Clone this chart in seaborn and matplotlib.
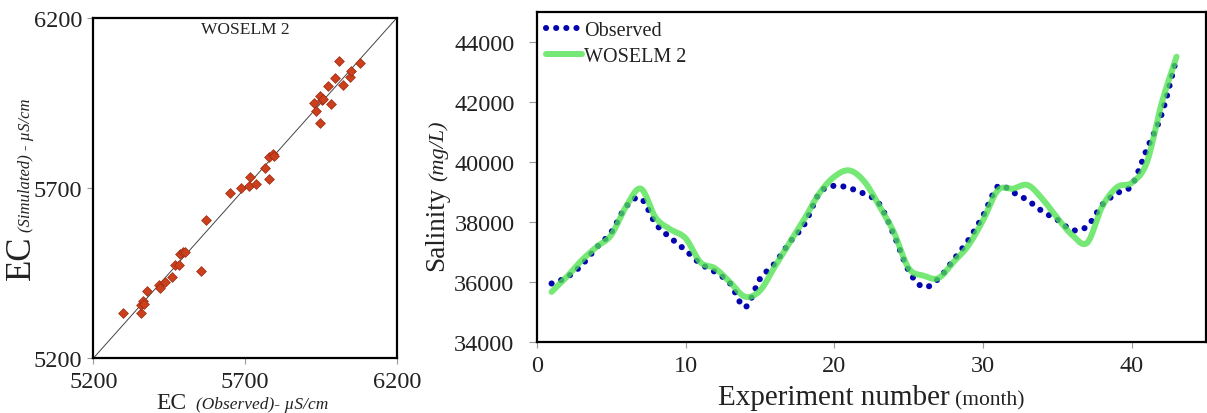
import numpy as np
import pandas as pd
import matplotlib
matplotlib.use("Agg")
import matplotlib.pyplot as plt
import seaborn as sns

# ---- scatter panel: EC observed vs simulated (uS/cm) ----
ec_observed = [5297, 5356, 5356, 5363, 5367, 5377, 5418, 5420, 5435, 5458,
               5468, 5484, 5487, 5495, 5502, 5556, 5571, 5651, 5687, 5714,
               5717, 5736, 5767, 5778, 5778, 5791, 5797, 5929, 5934, 5947,
               5947, 5953, 5956, 5975, 5982, 5997, 6009, 6024, 6046, 6051,
               6079]
ec_simulated = [5334, 5334, 5357, 5369, 5361, 5398, 5414, 5408, 5425, 5440,
                5475, 5475, 5507, 5513, 5513, 5456, 5606, 5687, 5699, 5707,
                5732, 5712, 5758, 5726, 5793, 5800, 5794, 5950, 5926, 5890,
                5970, 5960, 5962, 5999, 5948, 6023, 6073, 6004, 6026, 6045,
                6068]
ec_ticks = [5200, 5700, 6200]

# ---- time-series panel: salinity (mg/L) per month ----
month = list(range(1, 44))
observed = [35940, 36140, 36540, 37130, 37640, 38500, 38780, 37930, 37460, 37050,
            36600, 36320, 35940, 35150, 36090, 36610, 37310, 37920, 38950, 39200,
            39120, 38930, 38610, 37570, 36365, 35820, 36100, 36720, 37380, 38200,
            39180, 38980, 38710, 38340, 38060, 37720, 37850, 38560, 38950, 39220,
            40420, 41580, 43450]
woselm2 = [35660, 36150, 36700, 37150, 37550, 38500, 39100, 38130, 37740, 37450,
           36650, 36440, 35980, 35500, 35700, 36500, 37300, 38100, 38950, 39500,
           39710, 39350, 38550, 37650, 36450, 36200, 36120, 36650, 37200, 38050,
           39050, 39100, 39220, 38750, 38120, 37550, 37300, 38500, 39150, 39300,
           39970, 41950, 43500]
month_ticks = [0, 10, 20, 30, 40]
salinity_ticks = [34000, 36000, 38000, 40000, 42000, 44000]


def smooth_curve(x, y, n=24):
    """Catmull-Rom curve through every (x, y) point, like a spreadsheet's smoothed line."""
    x = np.asarray(x, float)
    y = np.asarray(y, float)
    pts = np.column_stack([x, y])
    pts = np.vstack([2 * pts[0] - pts[1], pts, 2 * pts[-1] - pts[-2]])
    p0, p1, p2, p3 = pts[:-3], pts[1:-2], pts[2:-1], pts[3:]
    t = np.linspace(0, 1, n, endpoint=False)[:, None, None]
    seg = 0.5 * (2 * p1 + (-p0 + p2) * t
                 + (2 * p0 - 5 * p1 + 4 * p2 - p3) * t ** 2
                 + (-p0 + 3 * p1 - 3 * p2 + p3) * t ** 3)
    seg = seg.transpose(1, 0, 2).reshape(-1, 2)
    seg = np.vstack([seg, pts[-2]])
    return seg[:, 0], seg[:, 1]


sns.set_theme(style="ticks")
plt.rcParams["font.family"] = ["Liberation Serif", "DejaVu Serif"]

W, H = 1207, 414
fig = plt.figure(figsize=(W / 100, H / 100), dpi=100)
fig.patch.set_facecolor("white")


def fx(px):
    return px / W


def fy(py):
    return 1 - py / H


ax1 = fig.add_axes([fx(93.3), fy(359.3), fx(396.7) - fx(93.3), fy(19) - fy(359.3)])
ax2 = fig.add_axes([fx(536.7), fy(342.7), fx(1206.3) - fx(536.7), fy(12.7) - fy(342.7)])

# ---------- left: scatter ----------
ax1.plot([ec_ticks[0], ec_ticks[-1]], [ec_ticks[0], ec_ticks[-1]],
         color="#444444", lw=0.7, zorder=1)
sns.scatterplot(x=ec_observed, y=ec_simulated, ax=ax1, marker="D", s=25,
                color="#cc3f1d", edgecolor="#9a2c12", linewidth=0.5, zorder=3)
ax1.set_xlim(ec_ticks[0], ec_ticks[-1])
ax1.set_ylim(ec_ticks[0], ec_ticks[-1])
ax1.set_xticks(ec_ticks)
ax1.set_yticks(ec_ticks)
ax1.set_xlabel("")
ax1.set_ylabel("")
ax1.tick_params(direction="out", length=4, width=0.8, color="#999999",
                labelsize=17.5, labelcolor="#222222")
ax1.tick_params(axis="x", pad=5)
ax1.tick_params(axis="y", pad=4)
ax1.text(0.5, 0.99, "WOSELM 2", transform=ax1.transAxes, ha="center", va="top",
         fontsize=12.5, color="#222222")

# ---------- right: salinity series ----------
ox, oy = smooth_curve(month, observed)
gx, gy = smooth_curve(month, woselm2)
obs_df = pd.DataFrame({"month": ox, "salinity": oy})
sim_df = pd.DataFrame({"month": gx, "salinity": gy})

sns.lineplot(data=obs_df, x="month", y="salinity", ax=ax2, estimator=None, sort=False,
             color="#0505b0", lw=4.4, linestyle=(0, (0.01, 1.65)),
             dash_capstyle="round", label="Observed", zorder=2)
sns.lineplot(data=sim_df, x="month", y="salinity", ax=ax2, estimator=None, sort=False,
             color="#4fe24f", lw=4.3, alpha=0.78, solid_capstyle="round",
             label="WOSELM 2", zorder=3)

ax2.set_xlim(0, 45)
ax2.set_ylim(34000, 45000)
ax2.set_xticks(month_ticks)
ax2.set_yticks(salinity_ticks)
ax2.set_xlabel("")
ax2.set_ylabel("")
ax2.tick_params(direction="out", width=0.8, color="#999999",
                labelsize=17.5, labelcolor="#222222")
ax2.tick_params(axis="x", length=4.5, pad=5)
ax2.tick_params(axis="y", length=6, pad=10)

leg = ax2.legend(loc="upper left", frameon=False, fontsize=14.5, handlelength=1.8,
                 handletextpad=0.1, borderaxespad=0.25, labelspacing=0.35,
                 borderpad=0.2)
for t in leg.get_texts():
    t.set_color("#222222")

for ax in (ax1, ax2):
    for sp in ax.spines.values():
        sp.set_visible(True)
        sp.set_color("black")
        sp.set_linewidth(1.6)

# ---------- axis titles built from mixed-size pieces ----------
txt = dict(color="#222222")
fig.text(fx(29.5), fy(258), "EC", rotation=90, rotation_mode="anchor",
         ha="center", va="baseline", fontsize=25, **txt)
fig.text(fx(29.5), fy(165), "(Simulated) - µS/cm", rotation=90, rotation_mode="anchor",
         ha="center", va="baseline", fontsize=12, style="italic", **txt)
fig.text(fx(171), fy(409), "EC", ha="center", va="baseline", fontsize=17, **txt)
fig.text(fx(262), fy(409), "(Observed)- µS/cm", ha="center", va="baseline",
         fontsize=12.5, style="italic", **txt)

fig.text(fx(443), fy(229), "Salinity", rotation=90, rotation_mode="anchor",
         ha="center", va="baseline", fontsize=19.5, **txt)
fig.text(fx(443), fy(151), "(mg/L)", rotation=90, rotation_mode="anchor",
         ha="center", va="baseline", fontsize=16, style="italic", **txt)
fig.text(fx(833.5), fy(405), "Experiment number", ha="center", va="baseline",
         fontsize=21, **txt)
fig.text(fx(990), fy(405), "(month)", ha="center", va="baseline",
         fontsize=15.5, **txt)

fig.savefig("out.png", dpi=100, facecolor="white")
